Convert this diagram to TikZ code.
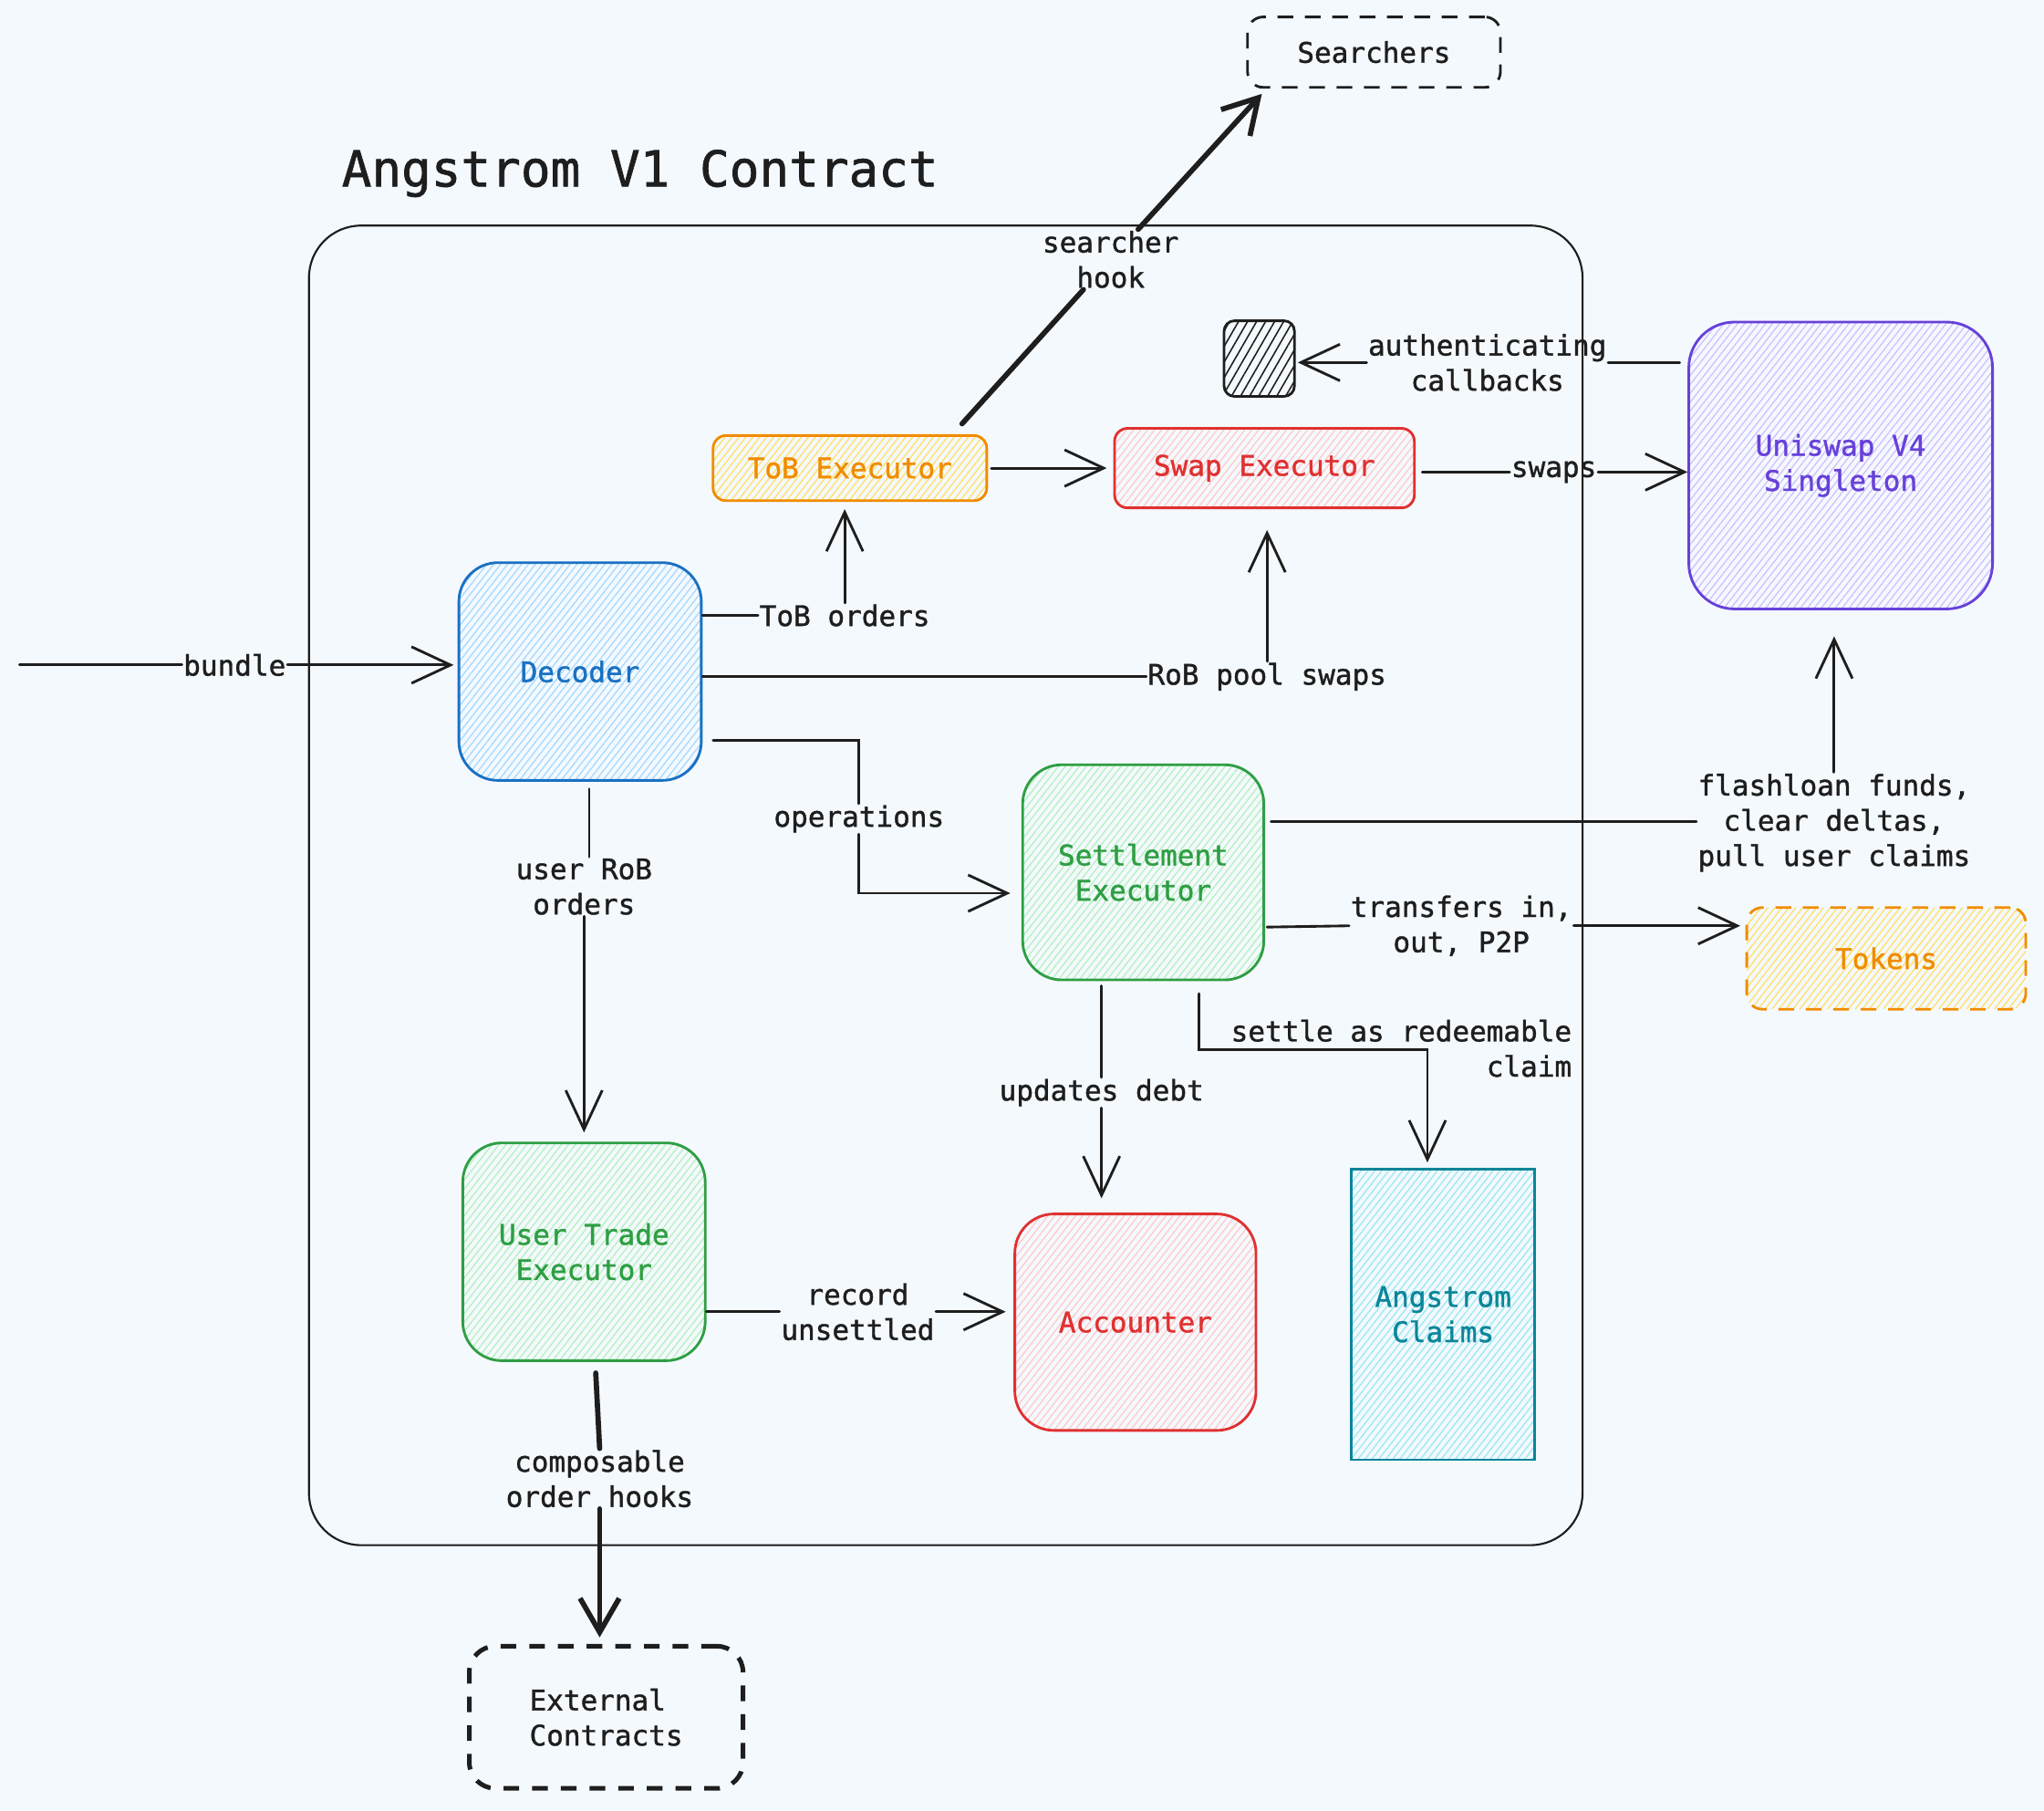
\documentclass[tikz,border=0pt]{standalone}
\usepackage{fontspec}
\newfontfamily\dmono[FakeBold=1.2]{DejaVu Sans Mono}
\usetikzlibrary{arrows.meta,patterns.meta,calc}
\definecolor{bg}{HTML}{F4F9FE}
\definecolor{ink}{HTML}{1E1E1E}
\definecolor{bluS}{HTML}{1971C2}\definecolor{bluF}{HTML}{A5D8FF}
\definecolor{oraS}{HTML}{F08C00}\definecolor{oraF}{HTML}{FFE066}
\definecolor{redS}{HTML}{E03131}\definecolor{redF}{HTML}{FFC9C9}
\definecolor{vioS}{HTML}{6741D9}\definecolor{vioF}{HTML}{D0BFFF}
\definecolor{grnS}{HTML}{2F9E44}\definecolor{grnF}{HTML}{B2F2BB}
\definecolor{cyaS}{HTML}{0C8599}\definecolor{cyaF}{HTML}{99E9F2}
\tikzset{
  txt/.style={font=\dmono\fontsize{21.7}{27}\selectfont},
  box/.style={txt, draw, line width=2pt, align=center, inner sep=0pt},
  hatch/.style={pattern={Lines[angle=52,distance=4.2pt,line width=0.9pt]}, pattern color=#1},
  lbl/.style={txt, align=center, inner sep=1pt, text=ink},
  conn/.style={draw=ink, line width=2pt, line cap=round},
  arr/.style={conn, -{Straight Barb[length=30pt,width=28pt]}},
  tconn/.style={draw=ink, line width=4pt, line cap=round},
  tarr/.style={tconn, -{Straight Barb[length=26pt,width=30pt]}},
}
\begin{document}
\begin{tikzpicture}[x=1pt,y=-1pt]
\fill[bg] (0,0) rectangle (1568,1388.2);
\useasboundingbox (0,0) rectangle (1568,1388.2);

% container and title
\node[draw=ink, line width=1.5pt, rounded corners=40pt, minimum width=977pt, minimum height=1012pt] (cont) at (725.5,679) {};
\node[anchor=west, text=ink, inner sep=0pt, font=\dmono\fontsize{38}{44}\selectfont] (title) at (262,133) {Angstrom V1 Contract};

% nodes
\node[box, draw=ink, text=ink, dash pattern=on 12pt off 9pt, rounded corners=12pt, minimum width=194pt, minimum height=54pt] (srch) at (1054,40) {Searchers};
\node[box, draw=oraS, text=oraS, hatch=oraF, rounded corners=10pt, minimum width=210pt, minimum height=50pt] (tob) at (652,359) {ToB Executor};
\node[box, draw=redS, text=redS, hatch=redF, rounded corners=10pt, minimum width=230pt, minimum height=61pt] (swap) at (970,359) {Swap Executor};
\node[box, draw=vioS, text=vioS, hatch=vioF, rounded corners=35pt, minimum width=233pt, minimum height=220pt] (uni) at (1412,357) {Uniswap V4\\Singleton};
\node[draw=ink, line width=2pt, pattern={Lines[angle=60,distance=6pt,line width=1.1pt]}, pattern color=ink, rounded corners=8pt, minimum width=54pt, minimum height=58pt, inner sep=0pt] (hb) at (966,275) {};
\node[box, draw=bluS, text=bluS, hatch=bluF, rounded corners=30pt, minimum width=186pt, minimum height=167pt] (dec) at (445,515) {Decoder};
\node[box, draw=grnS, text=grnS, hatch=grnF, rounded corners=30pt, minimum width=185pt, minimum height=165pt] (settle) at (877,669) {Settlement\\Executor};
\node[box, draw=grnS, text=grnS, hatch=grnF, rounded corners=30pt, minimum width=186pt, minimum height=167pt] (ute) at (448,960) {User Trade\\Executor};
\node[box, draw=redS, text=redS, hatch=redF, rounded corners=30pt, minimum width=185pt, minimum height=166pt] (acc) at (871,1014) {Accounter};
\node[box, draw=cyaS, text=cyaS, hatch=cyaF, minimum width=141pt, minimum height=223pt] (claims) at (1107,1008) {Angstrom\\Claims};
\node[box, draw=oraS, text=oraS, hatch=oraF, dash pattern=on 12pt off 9pt, rounded corners=12pt, minimum width=214pt, minimum height=78pt] (tokens) at (1447,735) {Tokens};
\node[box, draw=ink, text=ink, line width=3.5pt, dash pattern=on 12pt off 10pt, rounded corners=20pt, minimum width=210pt, minimum height=109pt, align=left] (ext) at (465,1317) {External\\Contracts};

% labels
\node[lbl] (lbundle) at (180,510) {bundle};
\node[lbl] (ltob) at (648,472) {ToB orders};
\node[lbl] (lrob) at (972,519) {RoB pool swaps};
\node[lbl] (lops) at (659,628) {operations};
\node[lbl] (lurob) at (448,680) {user RoB\\orders};
\node[lbl] (lrec) at (658,1006) {record\\unsettled};
\node[lbl] (lupd) at (845,838) {updates debt};
\node[lbl, align=right] (lsettle) at (1075,804) {settle as redeemable\\claim};
\node[lbl] (ltrans) at (1121,710) {transfers in,\\out, P2P};
\node[lbl] (lflash) at (1407,631) {flashloan funds,\\clear deltas,\\pull user claims};
\node[lbl] (lcomp) at (460,1134) {composable\\order hooks};
\node[lbl] (lswaps) at (1192,362) {swaps};
\node[lbl] (lauth) at (1141,278) {authenticating\\callbacks};
\node[lbl] (lsh) at (852,199) {searcher\\hook};

% free-end coordinates
\coordinate (bstart) at (15,510);
\coordinate (opsStart) at (547,568);
\coordinate (opsEnd) at (775,685);
\coordinate (shStart) at (738,325);
\coordinate (shEnd) at (968,72);
\coordinate (flStart) at (975,630);
\coordinate (trStart) at (972,711);
\coordinate (updStart) at (845,756);
\coordinate (setStart) at (920,762);
\coordinate (setMid) at (1095,805);
\coordinate (urStart) at (452,605);
\coordinate (compStart) at (457,1053);

% connectors
\draw[conn] (bstart) -- (lbundle.west);
\draw[arr, shorten >=3pt] (lbundle.east) -- (dec.west |- lbundle);

\draw[conn] (dec.east |- ltob) -- (ltob.west);
\draw[arr, shorten >=6pt] (ltob.north) -- (tob.south -| ltob);

\draw[conn] (dec.east |- lrob) -- (lrob.west);
\draw[arr, shorten >=16pt] (lrob.north) -- (swap.south -| lrob);

\draw[conn] (opsStart) -| (lops.north);
\draw[arr] (lops.south) |- (opsEnd);

\draw[conn] (urStart) -- (lurob.north -| urStart);
\draw[arr, shorten >=7pt] (lurob.south) -- (ute.north -| lurob);

\draw[arr, shorten <=3pt, shorten >=5pt] (tob.east) -- (swap.west |- tob.east);

\draw[conn] ($(swap.east |- lswaps)+(5,0)$) -- (lswaps.west);
\draw[arr] (lswaps.east) -- (uni.west |- lswaps);

\draw[conn] ($(uni.west |- lauth)+(-6,0)$) -- (lauth.east);
\draw[arr, shorten >=2pt] (lauth.west) -- (hb.east |- lauth);

\draw[tconn] (shStart) -- (lsh);
\draw[tarr] (lsh) -- (shEnd);

\draw[conn] (flStart) -- (lflash.west |- flStart);
\draw[arr, shorten >=20pt] (lflash.north) -- (uni.south -| lflash);

\draw[conn] (trStart) -- (ltrans.west);
\draw[arr, shorten >=4pt] (ltrans.east) -- (tokens.west |- ltrans);

\draw[conn] (updStart) -- (lupd.north);
\draw[arr, shorten >=11pt] (lupd.south) -- (acc.north -| lupd);

\draw[arr, shorten >=4pt] (setStart) |- (setMid) -- (claims.north -| setMid);

\draw[conn] (ute.east |- lrec) -- (lrec.west);
\draw[arr, shorten >=6pt] (lrec.east) -- (acc.west |- lrec);

\draw[tconn] (compStart) -- (lcomp.north);
\draw[tarr, shorten >=5pt] (lcomp.south) -- (ext.north -| lcomp);
\end{tikzpicture}
\end{document}
